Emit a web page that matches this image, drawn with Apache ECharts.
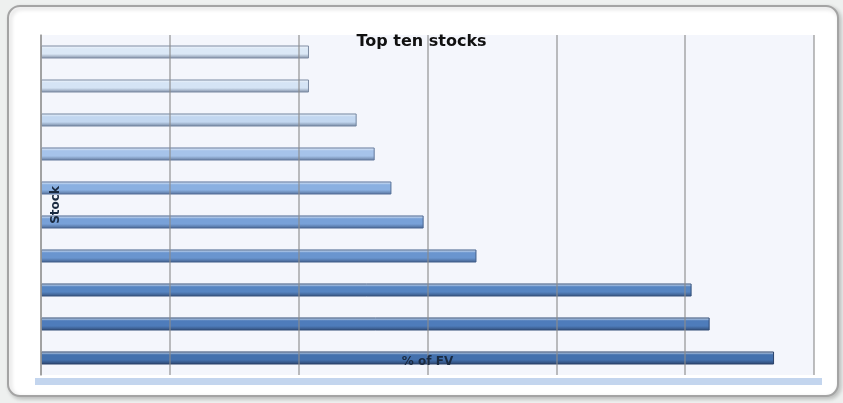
<!DOCTYPE html>
<html style="height: 100%">
<head>
<meta charset="utf-8">
<script src="https://cdn.jsdelivr.net/npm/echarts@6/dist/echarts.min.js"></script>
</head>
<body style="height: 100%; margin: 0; background: #eef0ef">
<div id="container" style="width: 843px; height: 403px"></div>
<script type="text/javascript">
// top to bottom, as drawn
var stocks = ['Stock 1', 'Stock 2', 'Stock 3', 'Stock 4', 'Stock 5',
              'Stock 6', 'Stock 7', 'Stock 8', 'Stock 9', 'Stock 10'];
var pctOfFV = [2.08, 2.08, 2.45, 2.59, 2.72, 2.97, 3.38, 5.05, 5.19, 5.69];

// bar shades, light at the top down to dark blue
var shades = ['#dbe8f6', '#d5e4f5', '#c2d7f0', '#a6c3ea', '#8ab0e1',
              '#78a1d8', '#6a95cf', '#5685c2', '#4e7cbb', '#4471ae'];
var edges = ['#7e8ca3', '#7b8aa2', '#71849f', '#63799c', '#546f98',
             '#486591', '#415e8a', '#36527d', '#314c77', '#2a436b'];

var chart = echarts.init(document.getElementById('container'));

var bars = pctOfFV.map(function (v, i) {
    return {
        value: v,
        itemStyle: {
            color: new echarts.graphic.LinearGradient(0, 0, 0, 1, [
                { offset: 0, color: '#f4f8fd' },
                { offset: 0.25, color: shades[i] },
                { offset: 0.65, color: shades[i] },
                { offset: 1, color: edges[i] }
            ]),
            borderColor: edges[i],
            borderWidth: 1
        }
    };
});

var option = {
    backgroundColor: '#eef0ef',
    animation: false,
    title: {
        text: 'Top ten stocks',
        left: 'center',
        top: 29,
        textStyle: { fontSize: 16, fontWeight: 'bold', color: '#111', fontFamily: 'DejaVu Sans' }
    },
    graphic: [
        {
            type: 'rect',
            z: -10,
            silent: true,
            shape: { x: 8, y: 6, width: 830, height: 390, r: 12 },
            style: { fill: '#ffffff', stroke: '#a4a4a4', lineWidth: 2,
                     shadowBlur: 4, shadowColor: 'rgba(0,0,0,0.2)', shadowOffsetX: 2, shadowOffsetY: 2 }
        },
        {
            type: 'rect',
            z: -5,
            silent: true,
            shape: { x: 35, y: 378, width: 787, height: 7 },
            style: { fill: '#c3d5ee' }
        }
    ],
    grid: {
        left: 41,
        right: 29,
        top: 35,
        bottom: 28,
        show: true,
        backgroundColor: '#f4f6fc',
        borderWidth: 0
    },
    xAxis: {
        type: 'value',
        z: 3,
        min: 0,
        max: 6,
        interval: 1,
        name: '% of FV',
        nameLocation: 'middle',
        nameGap: -19,
        nameTextStyle: { fontSize: 12, fontWeight: 'bold', color: '#1a2a40', fontFamily: 'DejaVu Sans' },
        axisLabel: { show: false },
        axisTick: { show: false },
        axisLine: { show: false },
        splitLine: { lineStyle: { color: 'rgba(140,140,140,0.75)', width: 1.5 } }
    },
    yAxis: {
        type: 'category',
        z: 3,
        inverse: true,
        data: stocks,
        name: 'Stock',
        nameLocation: 'middle',
        nameGap: -21,
        nameRotate: 90,
        nameTextStyle: { fontSize: 12, fontWeight: 'bold', color: '#1a2a40', fontFamily: 'DejaVu Sans' },
        axisLabel: { show: false },
        axisTick: { show: false },
        axisLine: { lineStyle: { color: '#9a9a9a', width: 1.5 } }
    },
    series: [{
        type: 'bar',
        barWidth: 13,
        data: bars
    }]
};

chart.setOption(option);
</script>
</body>
</html>
